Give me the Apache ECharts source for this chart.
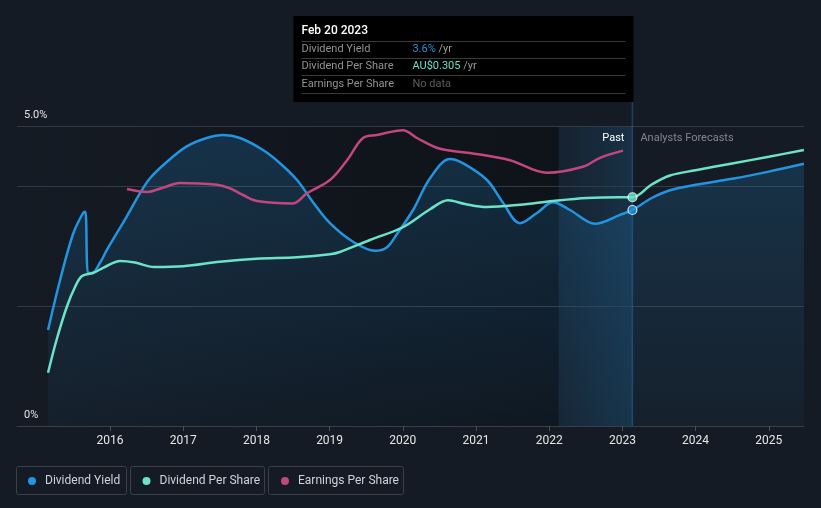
<!DOCTYPE html>
<html><head><meta charset="utf-8">
<script src="https://cdn.jsdelivr.net/npm/echarts@6/dist/echarts.min.js"></script>
<style>html,body{margin:0;padding:0;background:#151b24;}#c{width:821px;height:508px;}</style>
</head><body><div id="c"></div>
<script>
// ---- data ----
const xMin = 2014.729, xMax = 2025.481;
const yearTicks = [2016, 2017, 2018, 2019, 2020, 2021, 2022, 2023, 2024, 2025];
const yieldLabelTicks = [0, 5];
const gridLineValues = [2, 4, 5];
const pastStart = 2022.13;
const nowDate = 2023.137;
const nowYield = 3.6;
const nowDPS = 0.305;

const yieldDates = [2015.153, 2015.317, 2015.495, 2015.631, 2015.663, 2015.70, 2015.754, 2015.863, 2015.955, 2016.228, 2016.41, 2016.546, 2016.775, 2017.048, 2017.32, 2017.544, 2017.776, 2018.09, 2018.322, 2018.555, 2018.773, 2019.005, 2019.32, 2019.62, 2019.784, 2019.92, 2020.14, 2020.372, 2020.645, 2020.82, 2021.15, 2021.369, 2021.60, 2021.833, 2022.052, 2022.284, 2022.626, 2022.967, 2023.137, 2023.40, 2023.65, 2024.0, 2024.5, 2025.0, 2025.48];
const yieldValues = [1.6, 2.43, 3.2, 3.55, 3.57, 2.55, 2.55, 2.72, 2.93, 3.49, 3.88, 4.13, 4.4, 4.66, 4.8, 4.85, 4.8, 4.6, 4.38, 4.1, 3.73, 3.38, 3.07, 2.92, 2.98, 3.2, 3.6, 4.13, 4.45, 4.38, 4.1, 3.72, 3.38, 3.55, 3.73, 3.6, 3.37, 3.52, 3.6, 3.8, 3.93, 4.02, 4.12, 4.24, 4.37];

const dpsDates = [2015.153, 2015.27, 2015.41, 2015.52, 2015.617, 2015.768, 2015.93, 2016.137, 2016.34, 2016.6, 2017.0, 2017.5, 2018.0, 2018.555, 2019.005, 2019.14, 2019.55, 2020.0, 2020.372, 2020.617, 2020.85, 2021.15, 2021.6, 2022.05, 2022.516, 2022.967, 2023.137, 2023.40, 2023.65, 2024.0, 2024.5, 2025.0, 2025.48];
const dpsValues = [0.071, 0.115, 0.159, 0.185, 0.2, 0.204, 0.212, 0.22, 0.218, 0.212, 0.213, 0.219, 0.223, 0.225, 0.229, 0.232, 0.248, 0.265, 0.289, 0.301, 0.296, 0.292, 0.295, 0.3, 0.304, 0.305, 0.305, 0.322, 0.334, 0.341, 0.350, 0.359, 0.368];

const epsDates = [2016.232, 2016.505, 2016.72, 2016.956, 2017.462, 2017.64, 2017.817, 2018.008, 2018.5, 2018.69, 2019.005, 2019.238, 2019.456, 2019.648, 2020.003, 2020.194, 2020.508, 2020.918, 2021.464, 2021.97, 2022.46, 2022.694, 2023.008];
const epsValues = [0.395, 0.39, 0.397, 0.405, 0.402, 0.396, 0.385, 0.375, 0.371, 0.388, 0.41, 0.443, 0.48, 0.485, 0.493, 0.48, 0.462, 0.455, 0.443, 0.422, 0.432, 0.447, 0.459];

const seriesNames = ['Dividend Yield', 'Dividend Per Share', 'Earnings Per Share'];
const colors = ['#2394df', '#6ce3c9', '#c2477f'];
const tooltipTitle = 'Feb 20 2023';
const tooltipRows = [
  ['Dividend Yield', '3.6%', ' /yr'],
  ['Dividend Per Share', 'AU$0.305', ' /yr'],
  ['Earnings Per Share', 'No data', '']
];

// ---- chart ----
const zip = (a, b) => a.map((d, i) => [d, b[i]]);
const font = 'Roboto, "Noto Sans", sans-serif';
const chart = echarts.init(document.getElementById('c'), null, {renderer: 'canvas'});

const option = {
  backgroundColor: '#151b24',
  animation: false,
  textStyle: {fontFamily: font},
  grid: {left: 17, right: 17, top: 126, bottom: 82},
  legend: seriesNames.map((n, i) => ({
    data: [n], left: [23, 137.5, 276][i], top: 470, icon: 'circle',
    itemWidth: 16, itemHeight: 8, selectedMode: false,
    textStyle: {color: '#cfd3d9', fontSize: 12, fontFamily: font}
  })),
  xAxis: {
    type: 'value', min: xMin, max: xMax,
    axisLine: {show: true, lineStyle: {color: '#3a3f47', width: 1}},
    axisTick: {show: true, customValues: yearTicks, length: 5, lineStyle: {color: '#4a4f57'}},
    axisLabel: {customValues: yearTicks, color: '#e6e6e6', fontSize: 12, margin: 9, fontFamily: font, formatter: v => String(Math.round(v))},
    splitLine: {show: false}
  },
  yAxis: [
    {type: 'value', min: 0, max: 5, position: 'left',
     axisLine: {show: false}, axisTick: {show: false}, splitLine: {show: false},
     axisLabel: {inside: true, customValues: yieldLabelTicks, margin: 7, color: '#e6e6e6', fontSize: 11,
       verticalAlign: 'bottom', padding: [0, 0, 5, 0], fontFamily: font,
       formatter: v => v === 0 ? '0%' : v.toFixed(1) + '%'}},
    {type: 'value', min: 0, max: 0.4, show: false},
    {type: 'value', min: 0, max: 0.5, show: false}
  ],
  series: [
    {
      name: seriesNames[0], type: 'line', yAxisIndex: 0, z: 3,
      data: zip(yieldDates, yieldValues), smooth: 0.35, showSymbol: false, symbol: 'none',
      lineStyle: {color: colors[0], width: 2.5}, itemStyle: {color: colors[0]},
      areaStyle: {color: new echarts.graphic.LinearGradient(0, 0, 0, 1, [
        {offset: 0, color: 'rgba(35,148,223,0.30)'}, {offset: 1, color: 'rgba(35,148,223,0.06)'}])},
      markArea: {silent: true, z: 1, data: [
        [{xAxis: xMin, itemStyle: {color: new echarts.graphic.LinearGradient(0, 0, 1, 0, [
            {offset: 0, color: 'rgba(6,8,12,0.0)'}, {offset: 1, color: 'rgba(6,8,12,0.45)'}])}}, {xAxis: pastStart}],
        [{xAxis: pastStart, itemStyle: {color: new echarts.graphic.LinearGradient(0, 0, 1, 0, [
            {offset: 0, color: 'rgba(35,148,223,0.06)'}, {offset: 1, color: 'rgba(35,148,223,0.18)'}])}}, {xAxis: nowDate}]
      ]},
      markLine: {silent: true, z: 1, symbol: 'none', label: {show: false},
        lineStyle: {color: '#343a43', width: 1, type: 'solid'},
        data: gridLineValues.map(v => ({yAxis: v}))}
    },
    {
      name: seriesNames[1], type: 'line', yAxisIndex: 1, z: 4,
      data: zip(dpsDates, dpsValues), smooth: 0.35, showSymbol: false, symbol: 'none',
      lineStyle: {color: colors[1], width: 2.5}, itemStyle: {color: colors[1]}
    },
    {
      name: seriesNames[2], type: 'line', yAxisIndex: 2, z: 4,
      data: zip(epsDates, epsValues), smooth: 0.35, showSymbol: false, symbol: 'none',
      lineStyle: {color: colors[2], width: 2.5}, itemStyle: {color: colors[2]}
    },
    {
      name: 'nowYield', type: 'scatter', yAxisIndex: 0, z: 6, symbolSize: 9,
      data: [[nowDate, nowYield]],
      itemStyle: {color: colors[0], borderColor: '#ffffff', borderWidth: 1.2}
    },
    {
      name: 'nowDPS', type: 'scatter', yAxisIndex: 1, z: 6, symbolSize: 9,
      data: [[nowDate, nowDPS]],
      itemStyle: {color: colors[1], borderColor: '#ffffff', borderWidth: 1.2}
    }
  ]
};
chart.setOption(option);

const nowX = chart.convertToPixel({xAxisIndex: 0}, nowDate);
const axisY = chart.convertToPixel({yAxisIndex: 0}, 0);
const topY = chart.convertToPixel({yAxisIndex: 0}, 5);
const boxW = 340, boxLeft = nowX + 1 - boxW, boxTop = 16, boxH = 86;
const g = [];
g.push({type: 'line', z: 5, shape: {x1: nowX, y1: boxTop + boxH, x2: nowX, y2: axisY}, style: {stroke: 'rgba(40,110,170,0.45)', lineWidth: 1.5}});
g.push({type: 'rect', z: 10, shape: {x: boxLeft, y: boxTop, width: boxW, height: boxH}, style: {fill: '#000000'}});
g.push({type: 'text', z: 11, x: boxLeft + 8, y: boxTop + 15, style: {text: tooltipTitle, fill: '#ffffff', font: '500 12px ' + font, verticalAlign: 'middle'}});
const rowY = [49.5, 66.5, 84];
const sepY = [41.5, 58.5, 75.5, 93.5];
sepY.forEach(y => g.push({type: 'line', z: 11, shape: {x1: boxLeft + 8, y1: y, x2: boxLeft + 332, y2: y}, style: {stroke: '#3a3a3a', lineWidth: 1}}));
const valColors = [colors[0], colors[1], '#5c5f63'];
tooltipRows.forEach((r, i) => {
  g.push({type: 'text', z: 11, x: boxLeft + 8, y: rowY[i], style: {text: r[0], fill: '#8f9296', font: '11px ' + font, verticalAlign: 'middle'}});
  g.push({type: 'text', z: 11, x: boxLeft + 119, y: rowY[i], style: {
    text: '{v|' + r[1] + '}{u|' + r[2] + '}', verticalAlign: 'middle', font: '11px ' + font,
    rich: {v: {fill: valColors[i], font: '11px ' + font}, u: {fill: '#9a9da1', font: '11px ' + font}}}});
});
g.push({type: 'text', z: 8, x: nowX - 8, y: topY + 12, style: {text: 'Past', fill: '#ffffff', font: '11px ' + font, align: 'right', verticalAlign: 'middle'}});
g.push({type: 'text', z: 8, x: nowX + 8, y: topY + 12, style: {text: 'Analysts Forecasts', fill: '#80858d', font: '11px ' + font, align: 'left', verticalAlign: 'middle'}});
[[16, 110], [130, 134], [268, 135]].forEach(b => g.push({type: 'rect', z: 1, shape: {x: b[0] + 0.5, y: 466.5, width: b[1], height: 28, r: 2}, style: {fill: 'transparent', stroke: '#3a3f48', lineWidth: 1}}));
chart.setOption({graphic: g});
</script></body></html>
